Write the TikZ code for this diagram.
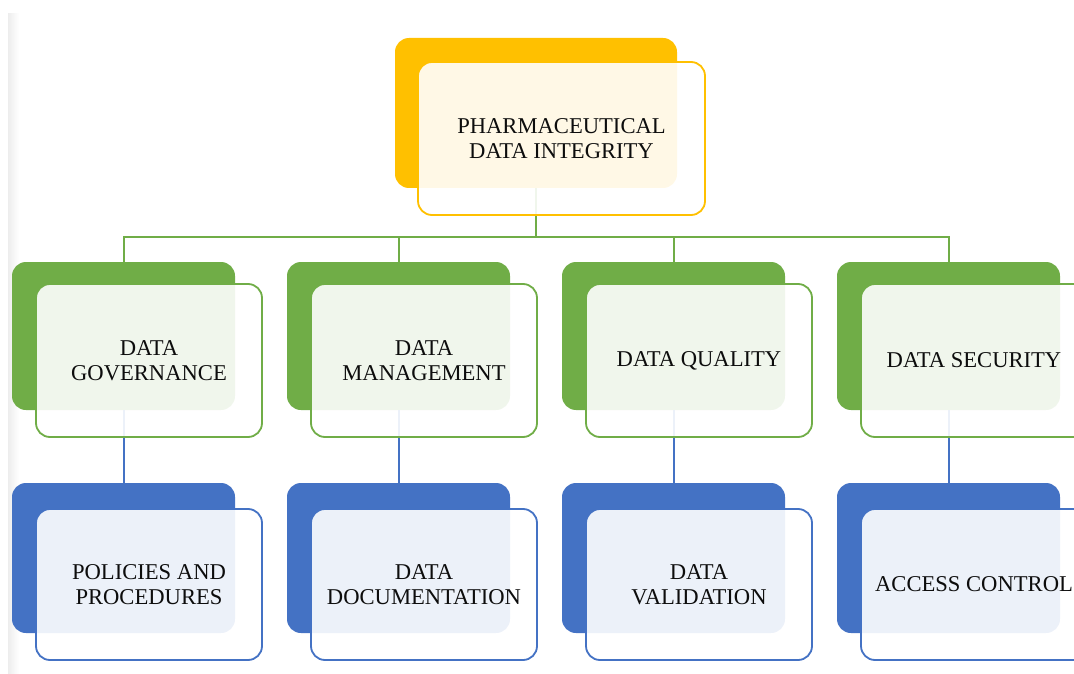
\documentclass[tikz,border=0pt]{standalone}
\usepackage{fontspec}
\setmainfont{Liberation Serif}
\definecolor{gold}{HTML}{FFC000}
\definecolor{leaf}{HTML}{70AD47}
\definecolor{sea}{HTML}{4472C4}
\definecolor{ink}{HTML}{0D0D0D}
\begin{document}
\begin{tikzpicture}[x=1pt,y=-1pt,
  back/.style={rounded corners=14pt, inner sep=0pt, draw=none},
  front/.style={rounded corners=14pt, inner sep=0pt, fill=white, fill opacity=0.9, text opacity=1,
    line width=1.8pt, align=center, text=ink,
    font=\fontsize{22.6}{25}\selectfont},
  lvl0/.style={minimum width=282pt, minimum height=150pt},
  lvl0f/.style={minimum width=287pt, minimum height=153pt},
  lvl1/.style={minimum width=223pt, minimum height=148pt},
  lvl1f/.style={minimum width=226pt, minimum height=153pt},
  lvl2/.style={minimum width=223pt, minimum height=150pt},
  lvl2f/.style={minimum width=226pt, minimum height=151pt},
  bus/.style={line width=2pt}
]
\useasboundingbox (0,0) rectangle (1074,674);
\clip (0,0) rectangle (1074,674);
\shade[left color=black!7, right color=white] (8,14) rectangle (19,674);
% back boxes
\node[back, lvl0, fill=gold] (T) at (536,113) {};
\foreach \i/\x in {1/123.5,2/398.5,3/673.5,4/948.5}{
  \node[back, lvl1, fill=leaf] (G\i) at (\x,336) {};
  \node[back, lvl2, fill=sea] (B\i) at (\x,558) {};
}
% connectors
\coordinate (busmid) at (536,237);
\draw[bus, leaf] (T.south) -- (busmid);
\draw[bus, leaf] (G1.north) -- (G1.north |- busmid) -- (G4.north |- busmid) -- (G4.north);
\draw[bus, leaf] (G2.north) -- (G2.north |- busmid);
\draw[bus, leaf] (G3.north) -- (G3.north |- busmid);
\foreach \i in {1,2,3,4}{
  \draw[bus, sea] (G\i.south) -- (B\i.north);
}
% front boxes
\node[front, lvl0f, draw=gold] (Tf) at (561.5,138.5) {PHARMACEUTICAL\\DATA INTEGRITY};
\node[front, lvl1f, draw=leaf] (G1f) at (149,360.5) {DATA\\GOVERNANCE};
\node[front, lvl1f, draw=leaf] (G2f) at (424,360.5) {DATA\\MANAGEMENT};
\node[front, lvl1f, draw=leaf] (G3f) at (699,360.5) {DATA QUALITY};
\node[front, lvl1f, draw=leaf] (G4f) at (974,360.5) {DATA SECURITY};
\node[front, lvl2f, draw=sea] (B1f) at (149,584.5) {POLICIES AND\\PROCEDURES};
\node[front, lvl2f, draw=sea] (B2f) at (424,584.5) {DATA\\DOCUMENTATION};
\node[front, lvl2f, draw=sea] (B3f) at (699,584.5) {DATA\\VALIDATION};
\node[front, lvl2f, draw=sea] (B4f) at (974,584.5) {ACCESS CONTROL};
\end{tikzpicture}
\end{document}
